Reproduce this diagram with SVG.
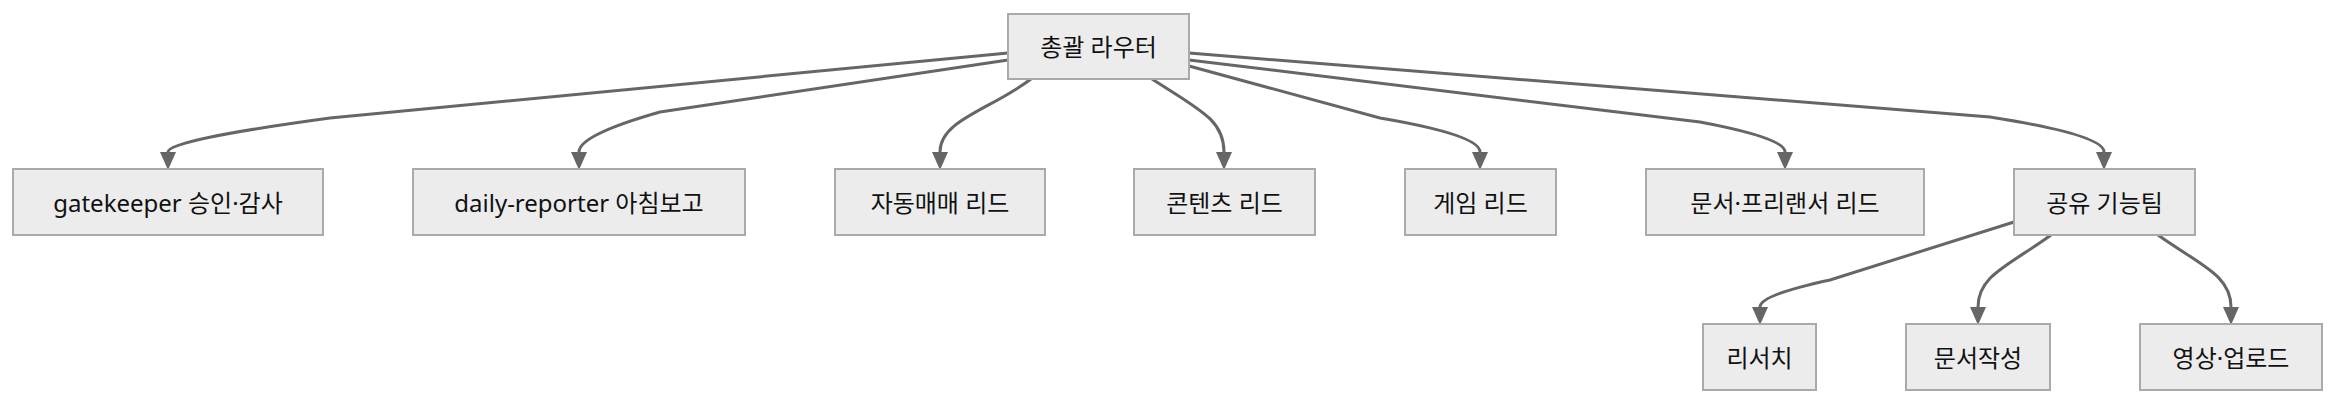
<svg xmlns="http://www.w3.org/2000/svg" width="2336" height="406" viewBox="0 0 2336 406">
<style>
.n rect{fill:#ececec;stroke:#aaaaaa;stroke-width:2}
.n text{font-family:"Noto Sans","Noto Sans CJK KR",sans-serif;font-size:24px;fill:#111;text-anchor:middle;dominant-baseline:central}
.e path{fill:none;stroke:#666;stroke-width:3;marker-end:url(#a)}
</style>
<defs><marker id="a" markerUnits="userSpaceOnUse" markerWidth="18" markerHeight="16" viewBox="0 0 18 16" refX="0" refY="8" orient="auto"><path d="M0,0 L18,8 L0,16 z" fill="#666"/></marker></defs>
<rect width="2336" height="406" fill="#fff"/>
<g id="edges" class="e">
<path d="M1008,53 L330,118 Q168,140 168,152"/>
<path d="M1008,60 L660,112 Q579,135 579,152"/>
<path d="M1031,79 C990,110 940,120 940,152"/>
<path d="M1152,79 C1200,110 1224,120 1224,152"/>
<path d="M1189,66 L1380,118 Q1480,135 1480,152"/>
<path d="M1189,60 L1700,122 Q1785,138 1785,152"/>
<path d="M1189,53 L1990,117 Q2104,135 2104,152"/>
<path d="M2014,222 L1830,280 Q1760,295 1760,307"/>
<path d="M2051,235 C2010,265 1978,275 1978,307"/>
<path d="M2158,235 C2200,265 2231,275 2231,307"/>
</g>
<g id="root" class="n"><rect x="1008" y="14" width="181" height="65"/><text x="1098.5" y="46.5">총괄 라우터</text></g>
<g id="gatekeeper" class="n"><rect x="13" y="169" width="310" height="66"/><text x="168" y="202">gatekeeper 승인·감사</text></g>
<g id="daily" class="n"><rect x="413" y="169" width="332" height="66"/><text x="579" y="202">daily-reporter 아침보고</text></g>
<g id="trade" class="n"><rect x="835" y="169" width="210" height="66"/><text x="940" y="202">자동매매 리드</text></g>
<g id="content" class="n"><rect x="1134" y="169" width="181" height="66"/><text x="1224.5" y="202">콘텐츠 리드</text></g>
<g id="game" class="n"><rect x="1405" y="169" width="151" height="66"/><text x="1480.5" y="202">게임 리드</text></g>
<g id="docs" class="n"><rect x="1646" y="169" width="278" height="66"/><text x="1785" y="202">문서·프리랜서 리드</text></g>
<g id="shared" class="n"><rect x="2014" y="169" width="181" height="66"/><text x="2104.5" y="202">공유 기능팀</text></g>
<g id="research" class="n"><rect x="1703" y="324" width="113" height="66"/><text x="1759.5" y="357">리서치</text></g>
<g id="writing" class="n"><rect x="1906" y="324" width="144" height="66"/><text x="1978" y="357">문서작성</text></g>
<g id="video" class="n"><rect x="2140" y="324" width="182" height="66"/><text x="2231" y="357">영상·업로드</text></g>
</svg>
